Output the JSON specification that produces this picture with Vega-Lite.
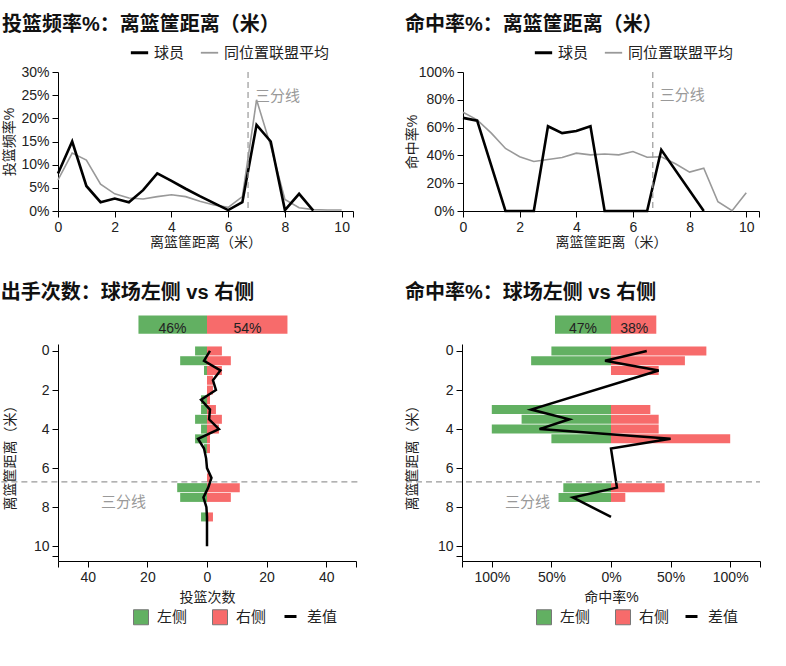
{
  "$schema": "https://vega.github.io/schema/vega-lite/v6.json",
  "padding": {"left": 0, "top": 15, "right": 0, "bottom": 0},
  "background": "white",
  "config": {
    "font": "Liberation Sans, Noto Sans CJK SC, sans-serif",
    "view": {"stroke": null},
    "axis": {"grid": false, "domainColor": "#000", "tickColor": "#000", "labelColor": "#222", "titleColor": "#222", "labelFontSize": 14, "titleFontSize": 14, "titleFontWeight": "normal", "tickSize": 6, "labelPadding": 3, "titlePadding": 1, "labelOverlap": false, "labelFlush": false},
    "legend": {"labelFontSize": 15, "labelColor": "#222"},
    "title": {"color": "#111"}
  },
  "datasets": {
    "freq": [
      {"dist": 0, "series": "球员", "value": 0.081}, {"dist": 0.5, "series": "球员", "value": 0.150}, {"dist": 1, "series": "球员", "value": 0.054}, {"dist": 1.5, "series": "球员", "value": 0.019}, {"dist": 2, "series": "球员", "value": 0.027}, {"dist": 2.5, "series": "球员", "value": 0.019}, {"dist": 3, "series": "球员", "value": 0.045}, {"dist": 3.5, "series": "球员", "value": 0.081}, {"dist": 4, "series": "球员", "value": 0.065}, {"dist": 4.5, "series": "球员", "value": 0.048}, {"dist": 5, "series": "球员", "value": 0.032}, {"dist": 5.5, "series": "球员", "value": 0.017}, {"dist": 6, "series": "球员", "value": 0.002}, {"dist": 6.5, "series": "球员", "value": 0.019}, {"dist": 7, "series": "球员", "value": 0.186}, {"dist": 7.5, "series": "球员", "value": 0.150}, {"dist": 8, "series": "球员", "value": 0.002}, {"dist": 8.5, "series": "球员", "value": 0.037}, {"dist": 9, "series": "球员", "value": 0.001},
      {"dist": 0, "series": "同位置联盟平均", "value": 0.067}, {"dist": 0.5, "series": "同位置联盟平均", "value": 0.125}, {"dist": 1, "series": "同位置联盟平均", "value": 0.110}, {"dist": 1.5, "series": "同位置联盟平均", "value": 0.058}, {"dist": 2, "series": "同位置联盟平均", "value": 0.037}, {"dist": 2.5, "series": "同位置联盟平均", "value": 0.028}, {"dist": 3, "series": "同位置联盟平均", "value": 0.026}, {"dist": 3.5, "series": "同位置联盟平均", "value": 0.031}, {"dist": 4, "series": "同位置联盟平均", "value": 0.035}, {"dist": 4.5, "series": "同位置联盟平均", "value": 0.031}, {"dist": 5, "series": "同位置联盟平均", "value": 0.021}, {"dist": 5.5, "series": "同位置联盟平均", "value": 0.013}, {"dist": 6, "series": "同位置联盟平均", "value": 0.008}, {"dist": 6.5, "series": "同位置联盟平均", "value": 0.031}, {"dist": 7, "series": "同位置联盟平均", "value": 0.240}, {"dist": 7.5, "series": "同位置联盟平均", "value": 0.140}, {"dist": 8, "series": "同位置联盟平均", "value": 0.025}, {"dist": 8.5, "series": "同位置联盟平均", "value": 0.007}, {"dist": 9, "series": "同位置联盟平均", "value": 0.003}, {"dist": 9.5, "series": "同位置联盟平均", "value": 0.002}, {"dist": 10, "series": "同位置联盟平均", "value": 0.002}
    ],
    "fg": [
      {"dist": 0, "series": "球员", "value": 0.67}, {"dist": 0.5, "series": "球员", "value": 0.65}, {"dist": 1.5, "series": "球员", "value": 0}, {"dist": 2, "series": "球员", "value": 0}, {"dist": 2.5, "series": "球员", "value": 0}, {"dist": 3, "series": "球员", "value": 0.61}, {"dist": 3.5, "series": "球员", "value": 0.56}, {"dist": 4, "series": "球员", "value": 0.575}, {"dist": 4.5, "series": "球员", "value": 0.61}, {"dist": 5, "series": "球员", "value": 0}, {"dist": 5.5, "series": "球员", "value": 0}, {"dist": 6, "series": "球员", "value": 0}, {"dist": 6.5, "series": "球员", "value": 0}, {"dist": 7, "series": "球员", "value": 0.44}, {"dist": 8.5, "series": "球员", "value": 0},
      {"dist": 0, "series": "同位置联盟平均", "value": 0.71}, {"dist": 0.5, "series": "同位置联盟平均", "value": 0.656}, {"dist": 1, "series": "同位置联盟平均", "value": 0.56}, {"dist": 1.5, "series": "同位置联盟平均", "value": 0.45}, {"dist": 2, "series": "同位置联盟平均", "value": 0.39}, {"dist": 2.5, "series": "同位置联盟平均", "value": 0.356}, {"dist": 3, "series": "同位置联盟平均", "value": 0.37}, {"dist": 3.5, "series": "同位置联盟平均", "value": 0.385}, {"dist": 4, "series": "同位置联盟平均", "value": 0.416}, {"dist": 4.5, "series": "同位置联盟平均", "value": 0.404}, {"dist": 5, "series": "同位置联盟平均", "value": 0.41}, {"dist": 5.5, "series": "同位置联盟平均", "value": 0.404}, {"dist": 6, "series": "同位置联盟平均", "value": 0.428}, {"dist": 6.5, "series": "同位置联盟平均", "value": 0.387}, {"dist": 7, "series": "同位置联盟平均", "value": 0.39}, {"dist": 7.5, "series": "同位置联盟平均", "value": 0.34}, {"dist": 8, "series": "同位置联盟平均", "value": 0.28}, {"dist": 8.5, "series": "同位置联盟平均", "value": 0.308}, {"dist": 9, "series": "同位置联盟平均", "value": 0.067}, {"dist": 9.5, "series": "同位置联盟平均", "value": 0.002}, {"dist": 10, "series": "同位置联盟平均", "value": 0.132}
    ],
    "bl_sum": [{"side": "左侧", "value": -23, "label": "46%"}, {"side": "右侧", "value": 27, "label": "54%"}],
    "br_sum": [{"side": "左侧", "value": -0.47, "label": "47%"}, {"side": "右侧", "value": 0.38, "label": "38%"}],
    "bl_bars": [
      {"dist": 0, "side": "左侧", "value": -4}, {"dist": 0, "side": "右侧", "value": 5},
      {"dist": 0.5, "side": "左侧", "value": -9}, {"dist": 0.5, "side": "右侧", "value": 8},
      {"dist": 1, "side": "左侧", "value": -1}, {"dist": 1, "side": "右侧", "value": 5},
      {"dist": 1.5, "side": "右侧", "value": 2},
      {"dist": 2, "side": "右侧", "value": 2},
      {"dist": 2.5, "side": "左侧", "value": -2}, {"dist": 2.5, "side": "右侧", "value": 1},
      {"dist": 3, "side": "左侧", "value": -2}, {"dist": 3, "side": "右侧", "value": 3},
      {"dist": 3.5, "side": "左侧", "value": -4}, {"dist": 3.5, "side": "右侧", "value": 5},
      {"dist": 4, "side": "左侧", "value": -2}, {"dist": 4, "side": "右侧", "value": 4},
      {"dist": 4.5, "side": "左侧", "value": -4}, {"dist": 4.5, "side": "右侧", "value": 1},
      {"dist": 5, "side": "左侧", "value": -1}, {"dist": 5, "side": "右侧", "value": 1},
      {"dist": 6.5, "side": "右侧", "value": 1},
      {"dist": 7, "side": "左侧", "value": -10}, {"dist": 7, "side": "右侧", "value": 11},
      {"dist": 7.5, "side": "左侧", "value": -9}, {"dist": 7.5, "side": "右侧", "value": 8},
      {"dist": 8.5, "side": "左侧", "value": -2}, {"dist": 8.5, "side": "右侧", "value": 2}
    ],
    "bl_diff": [
      {"dist": 0, "diff": 1, "series": "差值"}, {"dist": 0.5, "diff": -1, "series": "差值"}, {"dist": 1, "diff": 4.5, "series": "差值"}, {"dist": 1.5, "diff": 2, "series": "差值"}, {"dist": 2, "diff": 3, "series": "差值"}, {"dist": 2.5, "diff": -2, "series": "差值"}, {"dist": 3, "diff": 1, "series": "差值"}, {"dist": 3.5, "diff": 0.7, "series": "差值"}, {"dist": 4, "diff": 4, "series": "差值"}, {"dist": 4.5, "diff": -3, "series": "差值"}, {"dist": 5, "diff": -1, "series": "差值"}, {"dist": 5.5, "diff": -0.3, "series": "差值"}, {"dist": 6, "diff": 0, "series": "差值"}, {"dist": 6.5, "diff": 1.5, "series": "差值"}, {"dist": 7, "diff": 0.4, "series": "差值"}, {"dist": 7.5, "diff": -1.2, "series": "差值"}, {"dist": 8, "diff": -0.2, "series": "差值"}, {"dist": 8.5, "diff": 0, "series": "差值"}, {"dist": 9, "diff": 0, "series": "差值"}, {"dist": 9.5, "diff": 0, "series": "差值"}, {"dist": 10, "diff": 0, "series": "差值"}
    ],
    "br_bars": [
      {"dist": 0, "side": "左侧", "value": -0.50}, {"dist": 0, "side": "右侧", "value": 0.80},
      {"dist": 0.5, "side": "左侧", "value": -0.67}, {"dist": 0.5, "side": "右侧", "value": 0.62},
      {"dist": 1, "side": "右侧", "value": 0.40},
      {"dist": 3, "side": "左侧", "value": -1.00}, {"dist": 3, "side": "右侧", "value": 0.33},
      {"dist": 3.5, "side": "左侧", "value": -0.75}, {"dist": 3.5, "side": "右侧", "value": 0.40},
      {"dist": 4, "side": "左侧", "value": -1.00}, {"dist": 4, "side": "右侧", "value": 0.40},
      {"dist": 4.5, "side": "左侧", "value": -0.50}, {"dist": 4.5, "side": "右侧", "value": 1.00},
      {"dist": 7, "side": "左侧", "value": -0.40}, {"dist": 7, "side": "右侧", "value": 0.45},
      {"dist": 7.5, "side": "左侧", "value": -0.44}, {"dist": 7.5, "side": "右侧", "value": 0.12}
    ],
    "br_diff": [
      {"dist": 0, "diff": 0.30, "series": "差值"}, {"dist": 0.5, "diff": -0.05, "series": "差值"}, {"dist": 1, "diff": 0.40, "series": "差值"}, {"dist": 3, "diff": -0.67, "series": "差值"}, {"dist": 3.5, "diff": -0.35, "series": "差值"}, {"dist": 4, "diff": -0.60, "series": "差值"}, {"dist": 4.5, "diff": 0.50, "series": "差值"}, {"dist": 5, "diff": 0, "series": "差值"}, {"dist": 7, "diff": 0.05, "series": "差值"}, {"dist": 7.5, "diff": -0.32, "series": "差值"}, {"dist": 8.5, "diff": 0, "series": "差值"}
    ]
  },
  "bounds": "flush",
  "spacing": 272,
  "resolve": {"scale": {"color": "independent", "fill": "independent", "stroke": "independent", "x": "independent", "y": "independent"}, "legend": {"color": "independent", "fill": "independent", "stroke": "independent"}},
  "vconcat": [
    {
      "hconcat": [
        {
          "width": 295, "height": 139,
          "title": {"text": "投篮频率%：离篮筐距离（米）", "anchor": "start", "frame": "bounds", "fontSize": 20, "fontWeight": "bold", "offset": 10},
          "layer": [
            {
              "data": {"name": "freq"},
              "transform": [{"filter": "datum.series === '同位置联盟平均'"}],
              "mark": {"type": "line", "strokeWidth": 1.6},
              "encoding": {
                "x": {"field": "dist", "type": "quantitative", "scale": {"domain": [0, 10.4], "nice": false, "zero": false}, "axis": {"title": "离篮筐距离（米）", "values": [0, 2, 4, 6, 8, 10, 10.4], "tickCount": 30, "format": "d", "labelExpr": "datum.value > 10.2 ? '' : datum.label"}},
                "y": {"field": "value", "type": "quantitative", "scale": {"domain": [0, 0.3], "nice": false}, "axis": {"title": "投篮频率%", "values": [0, 0.05, 0.1, 0.15, 0.2, 0.25, 0.3], "tickCount": 30, "format": ".0%", "titleX": -42, "titleY": 69.5}},
                "color": {"field": "series", "type": "nominal", "scale": {"domain": ["球员", "同位置联盟平均"], "range": ["#000000", "#999999"]}, "legend": {"title": null, "orient": "none", "direction": "horizontal", "legendX": 74, "legendY": -27, "symbolType": "stroke", "symbolSize": 300, "symbolStrokeWidth": 3, "labelFontSize": 15, "labelOffset": 7, "columnPadding": 12, "encode": {"symbols": {"update": {"strokeWidth": {"signal": "datum.value === '球员' ? 3 : 1.8"}}}}}}
              }
            },
            {
              "data": {"name": "freq"},
              "transform": [{"filter": "datum.series === '球员'"}],
              "mark": {"type": "line", "strokeWidth": 2.6},
              "encoding": {
                "x": {"field": "dist", "type": "quantitative"},
                "y": {"field": "value", "type": "quantitative"},
                "color": {"field": "series", "type": "nominal"}
              }
            },
            {"data": {"values": [{}]}, "mark": {"type": "rule", "color": "#999999", "strokeDash": [6, 4], "strokeWidth": 1.2}, "encoding": {"x": {"datum": 6.7}}},
            {"data": {"values": [{}]}, "mark": {"type": "text", "align": "left", "dx": 7, "color": "#999999", "fontSize": 15}, "encoding": {"x": {"datum": 6.7}, "y": {"datum": 0.248}, "text": {"value": "三分线"}}}
          ]
        },
        {
          "width": 296, "height": 139,
          "title": {"text": "命中率%：离篮筐距离（米）", "anchor": "start", "frame": "bounds", "fontSize": 20, "fontWeight": "bold", "offset": 10},
          "layer": [
            {
              "data": {"name": "fg"},
              "transform": [{"filter": "datum.series === '同位置联盟平均'"}],
              "mark": {"type": "line", "strokeWidth": 1.6},
              "encoding": {
                "x": {"field": "dist", "type": "quantitative", "scale": {"domain": [0, 10.45], "nice": false, "zero": false}, "axis": {"title": "离篮筐距离（米）", "values": [0, 2, 4, 6, 8, 10, 10.45], "tickCount": 30, "format": "d", "labelExpr": "datum.value > 10.2 ? '' : datum.label"}},
                "y": {"field": "value", "type": "quantitative", "scale": {"domain": [0, 1], "nice": false}, "axis": {"title": "命中率%", "values": [0, 0.2, 0.4, 0.6, 0.8, 1], "tickCount": 30, "format": ".0%", "titleX": -44, "titleY": 69.5}},
                "color": {"field": "series", "type": "nominal", "scale": {"domain": ["球员", "同位置联盟平均"], "range": ["#000000", "#999999"]}, "legend": {"title": null, "orient": "none", "direction": "horizontal", "legendX": 73, "legendY": -27, "symbolType": "stroke", "symbolSize": 300, "symbolStrokeWidth": 3, "labelFontSize": 15, "labelOffset": 7, "columnPadding": 12, "encode": {"symbols": {"update": {"strokeWidth": {"signal": "datum.value === '球员' ? 3 : 1.8"}}}}}}
              }
            },
            {
              "data": {"name": "fg"},
              "transform": [{"filter": "datum.series === '球员'"}],
              "mark": {"type": "line", "strokeWidth": 2.6},
              "encoding": {
                "x": {"field": "dist", "type": "quantitative"},
                "y": {"field": "value", "type": "quantitative"},
                "color": {"field": "series", "type": "nominal"}
              }
            },
            {"data": {"values": [{}]}, "mark": {"type": "rule", "color": "#999999", "strokeDash": [6, 4], "strokeWidth": 1.2}, "encoding": {"x": {"datum": 6.7}}},
            {"data": {"values": [{}]}, "mark": {"type": "text", "align": "left", "dx": 7, "color": "#999999", "fontSize": 15}, "encoding": {"x": {"datum": 6.7}, "y": {"datum": 0.835}, "text": {"value": "三分线"}}}
          ]
        }
      ],
      "spacing": 110,
      "bounds": "flush",
      "resolve": {"scale": {"color": "independent", "x": "independent", "y": "independent"}, "legend": {"color": "independent"}}
    },
    {
      "hconcat": [
        {
          "width": 298, "height": 217,
          "title": {"text": "出手次数：球场左侧 vs 右侧", "anchor": "start", "frame": "bounds", "fontSize": 20, "fontWeight": "bold", "offset": 13},
          "layer": [
            {
              "data": {"name": "bl_bars"},
              "mark": {"type": "bar", "orient": "horizontal", "height": 9},
              "encoding": {
                "y": {"field": "dist", "type": "quantitative", "scale": {"domain": [-0.1, 10.5], "reverse": true, "nice": false, "zero": false}, "axis": {"title": "离篮筐距离（米）", "values": [0, 2, 4, 6, 8, 10, 10.5], "tickCount": 30, "format": "d", "labelExpr": "datum.value > 10.2 ? '' : datum.label", "titleX": -41, "titleY": 110}},
                "x": {"field": "value", "type": "quantitative", "scale": {"domain": [-50, 50], "nice": false}, "axis": {"title": "投篮次数", "titlePadding": 6, "values": [-50, -40, -20, 0, 20, 40, 50], "tickCount": 30, "labelExpr": "abs(datum.value) > 45 ? '' : format(abs(datum.value), 'd')"}},
                "fill": {"field": "side", "type": "nominal", "scale": {"domain": ["左侧", "右侧"], "range": ["#62b062", "#f76b6b"]}, "legend": {"title": null, "orient": "none", "direction": "horizontal", "legendX": 75, "legendY": 265, "symbolType": "square", "symbolSize": 225, "symbolStrokeColor": "#777777", "symbolStrokeWidth": 1, "labelFontSize": 15, "labelOffset": 8, "columnPadding": 22}}
              }
            },
            {
              "data": {"name": "bl_sum"},
              "mark": {"type": "rect"},
              "encoding": {
                "x": {"field": "value", "type": "quantitative"},
                "x2": {"datum": 0},
                "y": {"datum": -1.81},
                "y2": {"datum": -0.88},
                "fill": {"field": "side", "type": "nominal"}
              }
            },
            {
              "data": {"name": "bl_sum"},
              "mark": {"type": "text", "fontSize": 14, "color": "#222", "baseline": "alphabetic", "dy": 8, "dx": {"expr": "datum.value < 0 ? 34 : -40"}},
              "encoding": {
                "x": {"field": "value", "type": "quantitative"},
                "y": {"datum": -1.345},
                "text": {"field": "label"}
              }
            },
            {
              "data": {"name": "bl_diff"},
              "mark": {"type": "line", "strokeWidth": 2.5},
              "encoding": {
                "y": {"field": "dist", "type": "quantitative"},
                "x": {"field": "diff", "type": "quantitative"},
                "order": {"field": "dist", "type": "quantitative"},
                "stroke": {"field": "series", "type": "nominal", "scale": {"domain": ["差值"], "range": ["#000000"]}, "legend": {"title": null, "orient": "none", "legendX": 225, "legendY": 265, "symbolType": "stroke", "symbolSize": 144, "symbolStrokeWidth": 3, "labelFontSize": 15, "labelOffset": 9}}
              }
            },
            {"data": {"values": [{}]}, "mark": {"type": "rule", "color": "#999999", "strokeDash": [6, 4], "strokeWidth": 1.2}, "encoding": {"y": {"datum": 6.7}, "x": {"datum": -69}, "x2": {"datum": 51.5}}},
            {"data": {"values": [{}]}, "mark": {"type": "text", "color": "#999999", "fontSize": 15}, "encoding": {"x": {"datum": -28}, "y": {"datum": 7.75}, "text": {"value": "三分线"}}}
          ]
        },
        {
          "width": 298, "height": 217,
          "title": {"text": "命中率%：球场左侧 vs 右侧", "anchor": "start", "frame": "bounds", "fontSize": 20, "fontWeight": "bold", "offset": 13},
          "layer": [
            {
              "data": {"name": "br_bars"},
              "mark": {"type": "bar", "orient": "horizontal", "height": 9},
              "encoding": {
                "y": {"field": "dist", "type": "quantitative", "scale": {"domain": [-0.1, 10.5], "reverse": true, "nice": false, "zero": false}, "axis": {"title": "离篮筐距离（米）", "values": [0, 2, 4, 6, 8, 10, 10.5], "tickCount": 30, "format": "d", "labelExpr": "datum.value > 10.2 ? '' : datum.label", "titleX": -43, "titleY": 110}},
                "x": {"field": "value", "type": "quantitative", "scale": {"domain": [-1.25, 1.25], "nice": false}, "axis": {"title": "命中率%", "titlePadding": 6, "values": [-1.25, -1, -0.5, 0, 0.5, 1, 1.25], "tickCount": 30, "labelExpr": "abs(datum.value) > 1.1 ? '' : format(abs(datum.value), '.0%')"}},
                "fill": {"field": "side", "type": "nominal", "scale": {"domain": ["左侧", "右侧"], "range": ["#62b062", "#f76b6b"]}, "legend": {"title": null, "orient": "none", "direction": "horizontal", "legendX": 74, "legendY": 265, "symbolType": "square", "symbolSize": 225, "symbolStrokeColor": "#777777", "symbolStrokeWidth": 1, "labelFontSize": 15, "labelOffset": 8, "columnPadding": 22}}
              }
            },
            {
              "data": {"name": "br_sum"},
              "mark": {"type": "rect"},
              "encoding": {
                "x": {"field": "value", "type": "quantitative"},
                "x2": {"datum": 0},
                "y": {"datum": -1.81},
                "y2": {"datum": -0.88},
                "fill": {"field": "side", "type": "nominal"}
              }
            },
            {
              "data": {"name": "br_sum"},
              "mark": {"type": "text", "fontSize": 14, "color": "#222", "baseline": "alphabetic", "dy": 8, "dx": {"expr": "datum.value < 0 ? 28 : -22"}},
              "encoding": {
                "x": {"field": "value", "type": "quantitative"},
                "y": {"datum": -1.345},
                "text": {"field": "label"}
              }
            },
            {
              "data": {"name": "br_diff"},
              "mark": {"type": "line", "strokeWidth": 2.5},
              "encoding": {
                "y": {"field": "dist", "type": "quantitative"},
                "x": {"field": "diff", "type": "quantitative"},
                "order": {"field": "dist", "type": "quantitative"},
                "stroke": {"field": "series", "type": "nominal", "scale": {"domain": ["差值"], "range": ["#000000"]}, "legend": {"title": null, "orient": "none", "legendX": 222, "legendY": 265, "symbolType": "stroke", "symbolSize": 144, "symbolStrokeWidth": 3, "labelFontSize": 15, "labelOffset": 9}}
              }
            },
            {"data": {"values": [{}]}, "mark": {"type": "rule", "color": "#999999", "strokeDash": [6, 4], "strokeWidth": 1.2}, "encoding": {"y": {"datum": 6.7}, "x": {"datum": -1.72}, "x2": {"datum": 1.25}}},
            {"data": {"values": [{}]}, "mark": {"type": "text", "color": "#999999", "fontSize": 15}, "encoding": {"x": {"datum": -0.70}, "y": {"datum": 7.75}, "text": {"value": "三分线"}}}
          ]
        }
      ],
      "spacing": 106,
      "bounds": "flush",
      "resolve": {"scale": {"fill": "independent", "stroke": "independent", "x": "independent", "y": "independent"}, "legend": {"fill": "independent", "stroke": "independent"}}
    }
  ]
}
